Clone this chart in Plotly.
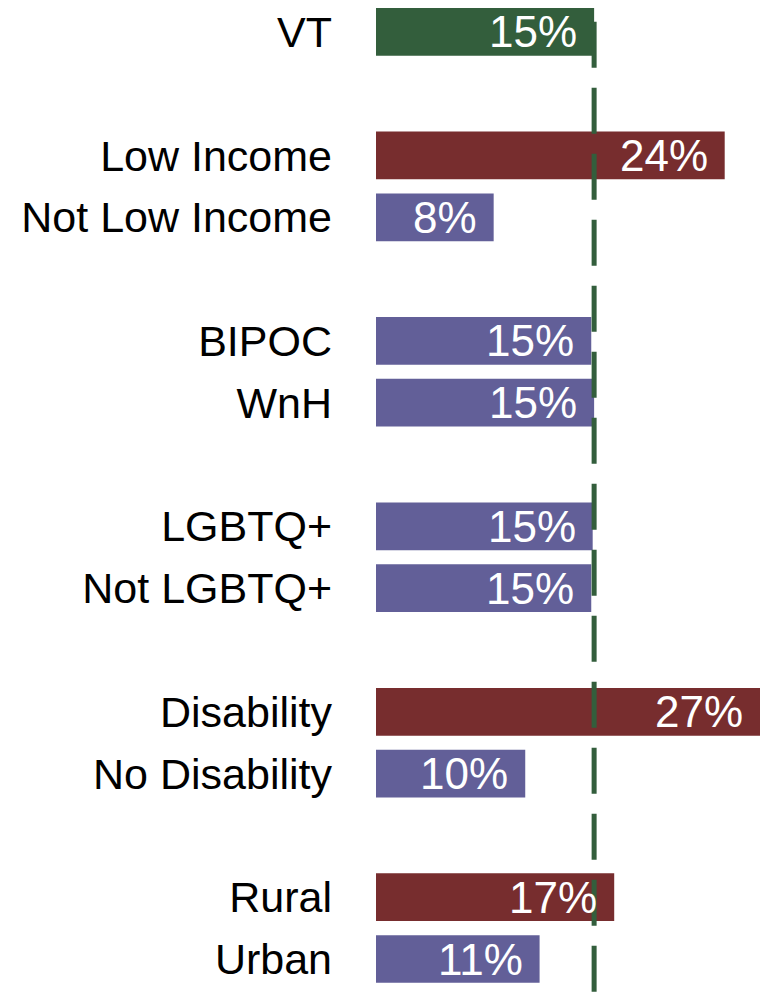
import plotly.graph_objects as go

categories = ["VT", "Low Income", "Not Low Income", "BIPOC", "WnH", "LGBTQ+", "Not LGBTQ+",
              "Disability", "No Disability", "Rural", "Urban"]
slots = [0, 2, 3, 5, 6, 8, 9, 11, 12, 14, 15]
values = [15.2, 24.3, 8.2, 15.0, 15.2, 15.1, 15.0, 26.8, 10.4, 16.6, 11.4]
labels = ["15%", "24%", "8%", "15%", "15%", "15%", "15%", "27%", "10%", "17%", "11%"]
groups = ["total", "high", "low", "low", "low", "low", "low", "high", "low", "high", "low"]
vt_value = values[0]

palette = {"total": "#335E3C", "high": "#772D2E", "low": "#625F98"}
FONT = "Liberation Sans, Arial, sans-serif"
X_MAX = 26.76

fig = go.Figure()
fig.add_trace(go.Bar(
    x=values, y=slots, orientation="h", width=0.772,
    marker=dict(color=[palette[g] for g in groups], line=dict(width=0)),
    hoverinfo="skip",
))

fig.add_shape(type="line", xref="x", yref="y", x0=vt_value, x1=vt_value,
              y0=-0.164, y1=15.6, layer="above",
              line=dict(color="#335E3C", width=5, dash="46px,20px"))

for v, s, t in zip(values, slots, labels):
    fig.add_annotation(x=min(v, X_MAX), y=s, text=t, showarrow=False, xanchor="right",
                       yanchor="middle", xshift=-15,
                       font=dict(family=FONT, size=44, color="white"))

fig.update_layout(
    width=762, height=986,
    margin=dict(l=368, r=10, t=0, b=0, pad=0),
    paper_bgcolor="white", plot_bgcolor="white",
    showlegend=False,
    xaxis=dict(range=[0, X_MAX], visible=False, showgrid=False, zeroline=False),
    yaxis=dict(range=[15.566, -0.386], tickvals=slots, ticktext=categories,
               showgrid=False, zeroline=False, showline=False, ticks="",
               ticklabelstandoff=43, ticklabeloverflow="allow",
               tickfont=dict(family=FONT, size=43, color="black")),
)

fig.write_html("out.html")
